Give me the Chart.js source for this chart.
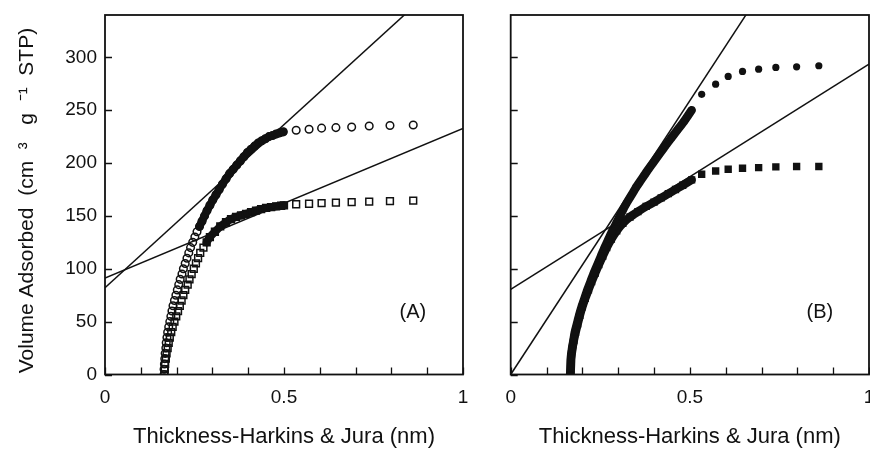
<!DOCTYPE html>
<html><head><meta charset="utf-8">
<script src="https://cdn.jsdelivr.net/npm/chart.js@4/dist/chart.umd.min.js"></script>
<style>
html,body{margin:0;padding:0;background:#fff;overflow:hidden;width:870px;height:450px;}
#ca{position:absolute;left:0;top:0;}
#cb{position:absolute;left:470px;top:0;}
</style></head><body>
<canvas id="ca" width="470" height="450"></canvas>
<canvas id="cb" width="410" height="450"></canvas>
<script>
// ---------- data ----------
const xTitle = 'Thickness-Harkins & Jura (nm)';
const yTitle = 'Volume Adsorbed  (cm  \u00B3   g  \u207B\u00B9  STP)  ';
const xLabelValues = [0, 0.5, 1];
const yTickValues = [0, 50, 100, 150, 200, 250, 300];
const panelLabels = ['(A)', '(B)'];

// Panel A, open circles
const aCircleX = [0.165,0.165,0.166,0.167,0.168,0.170,0.171,0.173,0.175,0.178,0.181,0.184,0.187,0.190,0.194,0.198,0.202,0.206,0.210,0.215,0.219,0.224,0.229,0.234,0.239,0.245,0.251,0.257,0.264,0.271,0.278,0.285,0.293,0.301,0.310,0.319,0.328,0.338,0.348,0.358,0.368,0.378,0.388,0.398,0.408,0.418,0.428,0.438,0.448,0.458,0.468,0.478,0.488,0.498,
  0.534,0.570,0.605,0.645,0.689,0.738,0.796,0.861];
const aCircleY = [0,5,10,15,20,25,30,35,40,45,50,55,60,65,70,75,80,85,90,95,100,105,110,115,120,125,130,135,140,145,150,155,160,165,170,175,180,185,190,194,198,202,206,210,213,216,219,221,223,225,226,227.5,228.5,229.5,
  231,232,233,233.5,234,235,235.5,236];
// Panel A, open squares
const aSquareX = [0.166,0.167,0.168,0.170,0.172,0.175,0.178,0.181,0.185,0.189,0.194,0.199,0.204,0.209,0.214,0.219,0.224,0.231,0.236,0.242,0.248,0.254,0.260,0.266,0.275,0.284,0.293,0.307,0.322,0.338,0.352,0.366,0.380,0.394,0.408,0.422,0.436,0.450,0.464,0.478,0.492,0.500,
  0.534,0.570,0.605,0.645,0.689,0.738,0.796,0.861];
const aSquareY = [0,5,10,15,20,25,30,35,40,45,50,55,60,65,70,75,80,85,90,95,100,105,110,115,120,125,130,135,140,144,147,149,150.5,152,153.5,155,156.5,157.5,158.3,159,159.6,160,
  161,161.5,162,162.5,163,163.5,164,164.5];
// Panel B, filled circles
const bCircleX = [0.166,0.167,0.168,0.171,0.175,0.179,0.185,0.191,0.198,0.206,0.214,0.223,0.232,0.242,0.252,0.262,0.273,0.284,0.296,0.308,0.320,0.334,0.348,0.364,0.380,0.397,0.414,0.431,0.449,0.467,0.485,0.505,
  0.533,0.572,0.607,0.647,0.692,0.740,0.798,0.860];
const bCircleY = [0,8,16,24,32,40,48,56,64,72,80,88,96,104,112,120,128,136,144,152,160,168,176,184,192,200,208,216,224,232,240,250,
  265,274.6,281.9,286.6,288.8,290.4,291,292];
// Panel B, filled squares
const bSquareX = [0.167,0.168,0.169,0.172,0.176,0.181,0.187,0.193,0.200,0.208,0.217,0.226,0.236,0.246,0.257,0.268,0.281,0.296,0.313,0.333,0.355,0.378,0.400,0.420,0.440,0.460,0.480,0.505,
  0.533,0.572,0.607,0.647,0.692,0.740,0.798,0.860];
const bSquareY = [0,8,16,24,32,40,48,56,64,72,80,88,96,104,112,120,128,136,143,149,154,159,163,167,171,175,179,184,
  189.4,192.5,194.1,195.1,195.7,196.3,196.7,196.7];
// straight fitted lines (values at x = 0 and x = 1)
const lineX = [0, 1];
const aLine1Y = [82, 390.6];
const aLine2Y = [91.2, 232.7];
const bLine1Y = [0, 518];
const bLine2Y = [80.5, 293.6];

// ---------- rendering ----------
const FONT = '"Liberation Sans", Arial, Helvetica, sans-serif';
Chart.defaults.font.family = FONT;
Chart.defaults.color = '#111';
const INK = '#111';
const CLEAR = 'rgba(0,0,0,0)';
const zip = (xs, ys) => xs.map((x, i) => ({x: x, y: ys[i]}));

const framePlugin = {
  id: 'frame',
  afterDatasetsDraw(chart, args, opts) {
    const {ctx, chartArea: {left, right, top, bottom}, scales: {x, y}} = chart;
    ctx.save();
    ctx.strokeStyle = INK;
    ctx.lineWidth = 1.3;
    ctx.beginPath();
    x.ticks.forEach(t => {
      const p = Math.round(x.getPixelForValue(t.value)) + 0.5;
      ctx.moveTo(p, bottom); ctx.lineTo(p, bottom - 7);
    });
    y.ticks.forEach(t => {
      const p = Math.round(y.getPixelForValue(t.value)) + 0.5;
      ctx.moveTo(left, p); ctx.lineTo(left + 7, p);
    });
    ctx.stroke();
    ctx.lineWidth = 1.8;
    ctx.strokeRect(left, top, right - left, bottom - top);
    ctx.font = '20px ' + FONT;
    ctx.fillStyle = INK;
    ctx.textAlign = 'center';
    ctx.textBaseline = 'middle';
    ctx.fillText(opts.label, x.getPixelForValue(opts.lx), y.getPixelForValue(opts.ly));
    ctx.restore();
  }
};

function lineSet(ys) {
  return {data: zip(lineX, ys), showLine: true, borderColor: INK, borderWidth: 1.5,
          pointRadius: 0, fill: false};
}

function scalesFor(showY, yWidth) {
  return {
    x: {
      type: 'linear', min: 0, max: 1,
      ticks: {stepSize: 0.1, autoSkip: false, maxRotation: 0, padding: 12,
              font: {size: 19}, color: INK,
              callback: v => { const l = xLabelValues.find(q => Math.abs(q - v) < 1e-6); return l === undefined ? '' : String(l); }},
      grid: {display: false, drawTicks: false}, border: {display: false},
      title: {display: true, text: xTitle, color: INK, font: {size: 22}, padding: {top: 0, bottom: 0}},
      afterFit: s => { s.height = 75.5; s.paddingLeft = 0; s.paddingRight = 0; }
    },
    y: {
      type: 'linear', min: 0, max: 340,
      afterBuildTicks: s => { s.ticks = yTickValues.map(v => ({value: v})); },
      ticks: {display: showY, padding: 8, font: {size: 19}, color: INK, callback: v => String(v)},
      grid: {display: false, drawTicks: false}, border: {display: false},
      title: {display: showY, text: yTitle, color: INK, font: {size: 21}, padding: {top: 15, bottom: 0}},
      afterFit: s => { s.width = yWidth; s.paddingTop = 0; s.paddingBottom = 0; }
    }
  };
}

const common = (padRight) => ({
  responsive: false, animation: false, devicePixelRatio: 1,
  layout: {autoPadding: false, padding: {left: 0, right: padRight, top: 15, bottom: 0}},
  plugins: {legend: {display: false}, tooltip: {enabled: false}}
});

// the upper part of each dense run of open markers reads as a solid black band
function solidFrom(yMin) {
  const inBand = p => p && p.y >= yMin && p.x <= 0.505;
  return {
    segment: {borderColor: c => (c.p0.parsed.y >= yMin && c.p1.parsed.x <= 0.505 ? INK : CLEAR)},
    pointBackgroundColor: c => (inBand(c.raw) ? INK : CLEAR)
  };
}

// Panel A
new Chart(document.getElementById('ca'), {
  type: 'scatter',
  data: {datasets: [
    lineSet(aLine1Y),
    lineSet(aLine2Y),
    Object.assign({data: zip(aCircleX, aCircleY), showLine: true, borderWidth: 8, tension: 0.2,
     borderCapStyle: 'round', borderJoinStyle: 'round',
     pointStyle: 'circle', pointRadius: 3.8, pointBorderWidth: 1.5, pointBorderColor: INK}, solidFrom(140)),
    Object.assign({data: zip(aSquareX, aSquareY), showLine: true, borderWidth: 8, tension: 0.2,
     borderCapStyle: 'round', borderJoinStyle: 'round',
     pointStyle: 'rect', pointRadius: 4.8, pointBorderWidth: 1.5, pointBorderColor: INK}, solidFrom(122))
  ]},
  options: Object.assign(common(7), {
    scales: scalesFor(true, 105),
    plugins: {legend: {display: false}, tooltip: {enabled: false},
              frame: {label: panelLabels[0], lx: 0.86, ly: 59}}
  }),
  plugins: [framePlugin]
});

// Panel B
const denseSeg = {borderColor: c => (c.p1.parsed.x > 0.51 ? CLEAR : INK)};
new Chart(document.getElementById('cb'), {
  type: 'scatter',
  data: {datasets: [
    lineSet(bLine1Y),
    lineSet(bLine2Y),
    {data: zip(bCircleX, bCircleY), showLine: true, borderWidth: 8.5, borderColor: INK,
     borderCapStyle: 'round', borderJoinStyle: 'round', tension: 0.2, segment: denseSeg,
     pointStyle: 'circle', pointRadius: 3.6, pointBorderWidth: 0, pointBackgroundColor: INK},
    {data: zip(bSquareX, bSquareY), showLine: true, borderWidth: 8.5, borderColor: INK,
     borderCapStyle: 'round', borderJoinStyle: 'round', tension: 0.2, segment: denseSeg,
     pointStyle: 'rect', pointRadius: 5.2, pointBorderWidth: 0, pointBackgroundColor: INK}
  ]},
  options: Object.assign(common(11), {
    scales: scalesFor(false, 40.7),
    plugins: {legend: {display: false}, tooltip: {enabled: false},
              frame: {label: panelLabels[1], lx: 0.863, ly: 59}}
  }),
  plugins: [framePlugin]
});
</script>
</body></html>
